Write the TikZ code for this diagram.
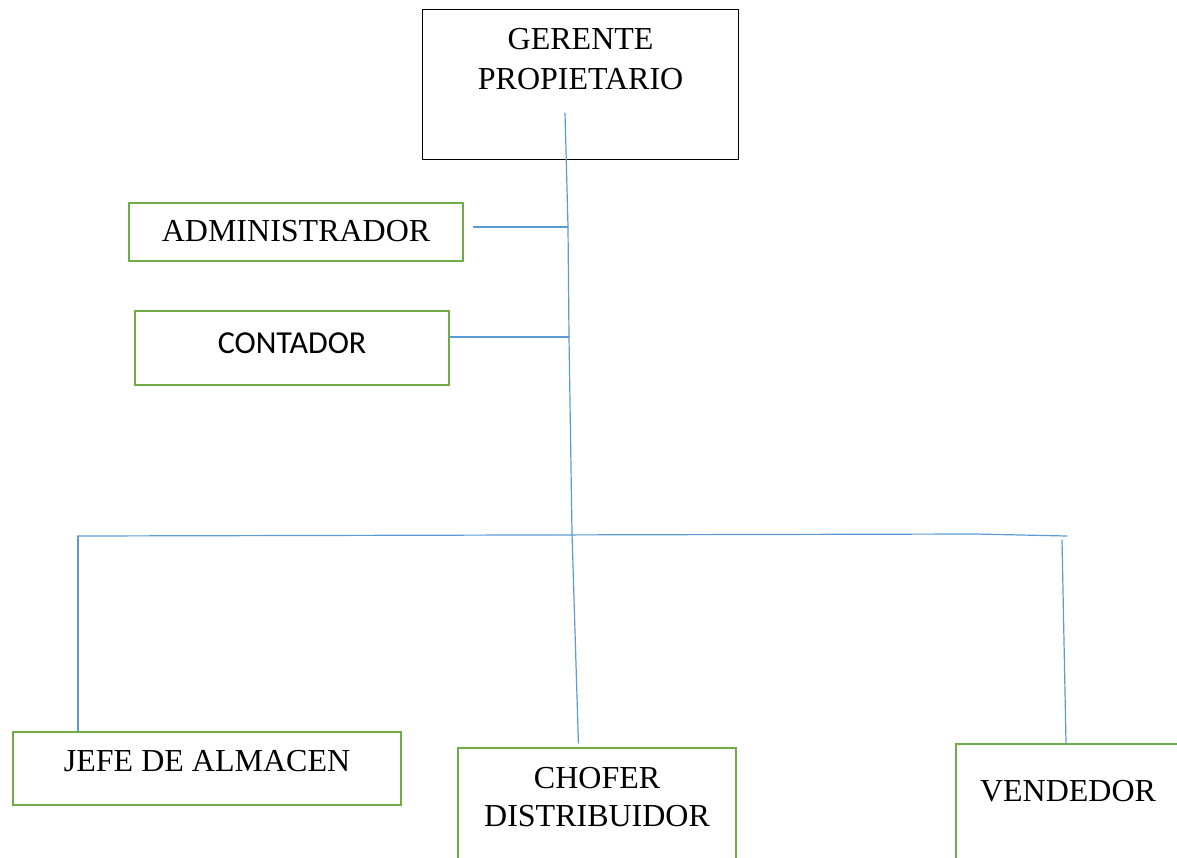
\documentclass[tikz,border=0pt]{standalone}
\usepackage{fontspec}
\setmainfont{Liberation Serif}
\newfontfamily\calibri{Carlito}
\definecolor{boxgreen}{RGB}{112,173,71}
\definecolor{linkblue}{RGB}{91,155,213}
\tikzset{
  puesto/.style={draw=boxgreen,line width=1.6pt,inner xsep=0pt,inner ysep=0pt,
    font=\fontsize{24}{30}\selectfont,align=center},
  jefebox/.style={draw=black,line width=0.9pt,inner xsep=0pt,inner ysep=0pt,
    font=\fontsize{24}{30}\selectfont,align=center},
  enlace/.style={draw=linkblue,line width=0.9pt}
}
\begin{document}
\begin{tikzpicture}[x=0.75pt,y=-0.75pt,line cap=round,>=stealth]
		\useasboundingbox (0,0) rectangle (1177,857);
		% cargos
		\node[jefebox,minimum width=237pt,text height=60pt,text depth=52.5pt,anchor=north west] (gerente) at (422,9) {GERENTE\\PROPIETARIO};
		\node[puesto,minimum width=250.5pt,text height=28.5pt,text depth=15pt,anchor=north west] (admin) at (128,202) {ADMINISTRADOR};
		\node[puesto,minimum width=235.5pt,text height=31.5pt,text depth=24pt,anchor=north west,font=\calibri\fontsize{24}{30}\selectfont] (contador) at (134,310) {CONTADOR};
		\node[puesto,minimum width=291pt,text height=29.25pt,text depth=25.5pt,anchor=north west] (almacen) at (12,731) {JEFE DE ALMACEN};
		\node[puesto,minimum width=208.5pt,text height=58.5pt,text depth=33.75pt,anchor=north west,font=\fontsize{24}{28.5}\selectfont] (chofer) at (457,747) {CHOFER\\DISTRIBUIDOR};
		\node[puesto,minimum width=168pt,text height=42.75pt,text depth=52.5pt,anchor=north] (vendedor) at (1068,743) {VENDEDOR};
		% lineas
		\coordinate (arriba) at (565,113);
		\coordinate (nudoA) at (568,227);
		\coordinate (nudoC) at (569,337);
		\coordinate (centro) at (572,533);
		\coordinate (izq) at (78,536);
		\coordinate (der) at (1067,536);
		\coordinate (bajaD) at (1062,540);
		\draw[enlace] (arriba) -- (nudoA) -- (nudoC) -- (centro);
		\draw[enlace] ([xshift=7pt]admin.east |- nudoA) -- (nudoA);
		\draw[enlace] (contador.east |- nudoC) -- (nudoC);
		\draw[enlace] (izq) -- (975,534) -- (der);
		\draw[enlace] (izq) -- (izq |- almacen.north);
		\draw[enlace] (centro) -- ([xshift=-14pt,yshift=3pt]chofer.north);
		\draw[enlace] (bajaD) -- ([xshift=-1.5pt]vendedor.north);
	\end{tikzpicture}
\end{document}
